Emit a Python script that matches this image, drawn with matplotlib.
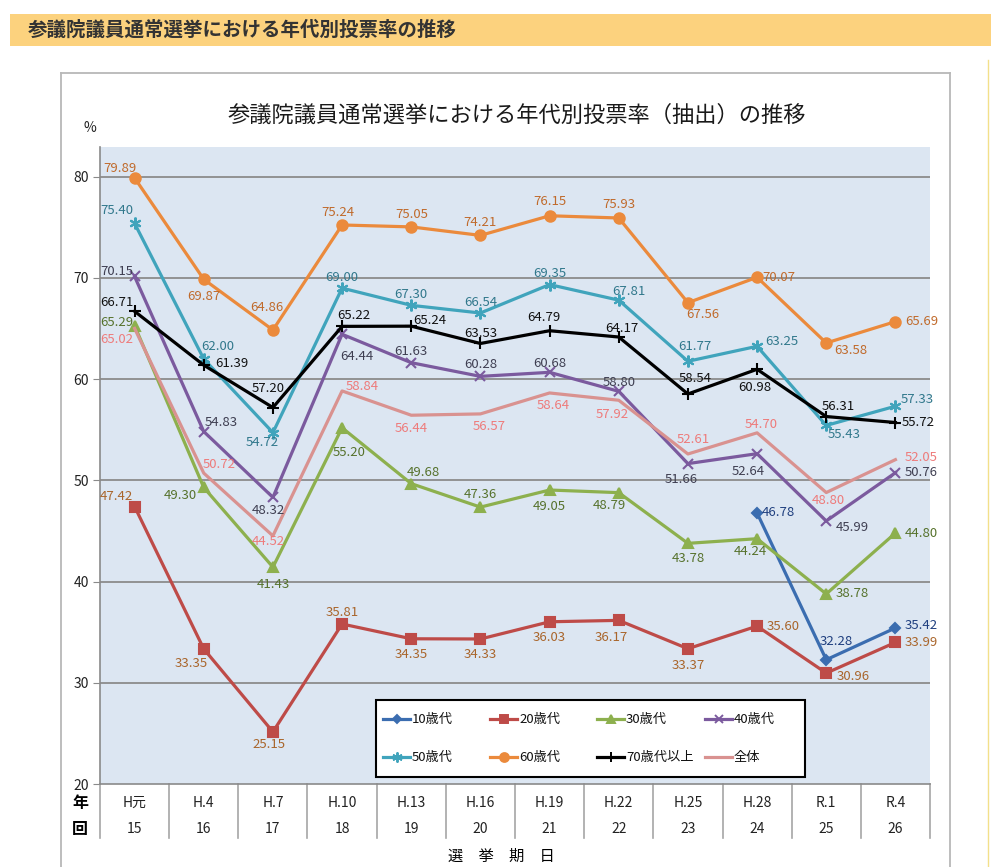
import numpy as np
import matplotlib
matplotlib.use("Agg")
import matplotlib.pyplot as plt
import matplotlib.transforms as mtransforms
from matplotlib.lines import Line2D
from matplotlib.patches import Rectangle

plt.rcParams['font.family'] = ['Noto Sans CJK JP', 'DejaVu Sans']

# --- data -------------------------------------------------------------
eras = ["H元", "H.4", "H.7", "H.10", "H.13", "H.16", "H.19", "H.22", "H.25", "H.28", "R.1", "R.4"]
rounds = ["15", "16", "17", "18", "19", "20", "21", "22", "23", "24", "25", "26"]

names = ["10歳代", "20歳代", "30歳代", "40歳代", "50歳代", "60歳代", "70歳代以上", "全体"]
age10 = [np.nan] * 9 + [46.78, 32.28, 35.42]
age20 = [47.42, 33.35, 25.15, 35.81, 34.35, 34.33, 36.03, 36.17, 33.37, 35.60, 30.96, 33.99]
age30 = [65.29, 49.30, 41.43, 55.20, 49.68, 47.36, 49.05, 48.79, 43.78, 44.24, 38.78, 44.80]
age40 = [70.15, 54.83, 48.32, 64.44, 61.63, 60.28, 60.68, 58.80, 51.66, 52.64, 45.99, 50.76]
age50 = [75.40, 62.00, 54.72, 69.00, 67.30, 66.54, 69.35, 67.81, 61.77, 63.25, 55.43, 57.33]
age60 = [79.89, 69.87, 64.86, 75.24, 75.05, 74.21, 76.15, 75.93, 67.56, 70.07, 63.58, 65.69]
age70 = [66.71, 61.39, 57.20, 65.22, 65.24, 63.53, 64.79, 64.17, 58.54, 60.98, 56.31, 55.72]
total = [65.02, 50.72, 44.52, 58.84, 56.44, 56.57, 58.64, 57.92, 52.61, 54.70, 48.80, 52.05]
series = [age10, age20, age30, age40, age50, age60, age70, total]

# --- styles -----------------------------------------------------------
asterisk = (6, 2, 0)
styles = {
    "10歳代": dict(color="#3B6DB0", marker="D", ms=5, lab="#1F3F7F"),
    "20歳代": dict(color="#BE4B48", marker="s", ms=7, lab="#A9652B"),
    "30歳代": dict(color="#8DB04E", marker="^", ms=7.5, lab="#56722C"),
    "40歳代": dict(color="#7B5A9E", marker="x", ms=7, lab="#3F3F52"),
    "50歳代": dict(color="#40A4BC", marker=asterisk, ms=8.5, lab="#31788C"),
    "60歳代": dict(color="#EB8A3C", marker="o", ms=7.5, lab="#C06A2B"),
    "70歳代以上": dict(color="#000000", marker="+", ms=8, lab="#111111"),
    "全体": dict(color="#D99290", marker=None, ms=0, lab="#EE7B7B"),
}

# label placement offsets in pixels (dx right, dy down)
label_pos = {
    "10歳代": [None] * 9 + [(21, 0), (10, -18), (26, -2)],
    "20歳代": [(-18, -10), (-13, 15), (-4, 13), (0, -12), (0, 16), (0, 16),
              (0, 16), (-7, 17), (0, 17), (26, 0), (27, 3), (26, 0)],
    "30歳代": [(-18, -3), (-23, 8), (0, 17), (7, 25), (12, -11), (0, -13),
              (0, 16), (-9, 13), (0, 15), (-7, 13), (26, 0), (26, 0)],
    "40歳代": [(-18, -5), (18, -9), (-5, 13), (15, 22), (0, -11), (0, -12),
              (0, -9), (0, -9), (-7, 16), (-9, 18), (26, 7), (26, 0)],
    "50歳代": [(-18, -13), (14, -12), (-11, 10), (0, -11), (0, -11), (0, -11),
              (0, -11), (10, -9), (7, -15), (25, -5), (18, 9), (22, -7)],
    "60歳代": [(-15, -9), (0, 17), (-6, -23), (-4, -12), (0, -12), (0, -13),
              (0, -14), (0, -13), (15, 12), (22, 0), (25, 8), (26, 0)],
    "70歳代以上": [(-18, -9), (28, -2), (-5, -19), (12, -11), (19, -6), (0, -10),
                (-6, -13), (3, -8), (7, -15), (-2, 18), (12, -10), (23, 0)],
    "全体": [(-18, 11), (15, -9), (-5, 6), (20, -4), (0, 13), (9, 13),
           (4, 13), (-7, 14), (5, -14), (4, -8), (2, 8), (26, -2)],
}

W, H = 991, 867
fx = lambda x: x / W
fy = lambda y: 1 - y / H

fig = plt.figure(figsize=(W / 100, H / 100), dpi=100)
fig.patch.set_facecolor("white")

# header bar
fig.add_artist(Rectangle((fx(10), fy(46)), fx(991) - fx(10), fy(14) - fy(46),
                         transform=fig.transFigure, facecolor="#FCD27E", edgecolor="none"))
fig.text(fx(28), fy(30), "参議院議員通常選挙における年代別投票率の推移",
         fontsize=14, fontweight="bold", color="#333333", va="center", ha="left")

# chart frame
frame = dict(color="#B8B8B8", lw=1.3, transform=fig.transFigure)
fig.add_artist(Line2D([fx(61), fx(61)], [fy(73), fy(867)], **frame))
fig.add_artist(Line2D([fx(61), fx(950)], [fy(73), fy(73)], **frame))
fig.add_artist(Line2D([fx(950), fx(950)], [fy(73), fy(867)], **frame))
fig.add_artist(Line2D([fx(988), fx(988)], [fy(60), fy(867)], color="#F3E08A", lw=1,
                      transform=fig.transFigure))

fig.text(fx(517), fy(115), "参議院議員通常選挙における年代別投票率（抽出）の推移",
         fontsize=16, ha="center", va="center", color="#1a1a1a")
fig.text(fx(90), fy(128), "%", fontsize=10, ha="center", va="center", color="#222222")

# plot area
ax = fig.add_axes([fx(100), fy(784), fx(930) - fx(100), fy(147) - fy(784)])
ax.set_facecolor("#DCE6F2")
ax.set_xlim(-0.5, len(eras) - 0.5)
ax.set_ylim(20, 20 + (784 - 147) / 10.12)
ax.set_yticks(range(20, 81, 10))
ax.tick_params(axis="y", length=5, color="#8A8A8A", labelsize=10, labelcolor="#222222", pad=3)
ax.tick_params(axis="x", length=0, labelbottom=False)
for y in range(30, 81, 10):
    ax.axhline(y, color="#8C8C8C", lw=1.3, zorder=1)
for s in ["top", "right"]:
    ax.spines[s].set_visible(False)
ax.spines["left"].set_color("#8A8A8A")
ax.spines["bottom"].set_color("#8A8A8A")
ax.spines["left"].set_linewidth(1.2)
ax.spines["bottom"].set_linewidth(1.2)

x = np.arange(len(eras))
for k, (name, vals) in enumerate(zip(names, series)):
    st = styles[name]
    ax.plot(x, vals, color=st["color"], lw=2.3, marker=st["marker"], ms=st["ms"],
            mew=1.5, mec=st["color"], mfc=st["color"], zorder=3 + k, clip_on=False)
    for i, v in enumerate(vals):
        if np.isnan(v):
            continue
        dx, dy = label_pos[name][i]
        ax.annotate(f"{v:.2f}", (i, v), xytext=(dx, -dy), textcoords="offset pixels",
                    ha="center", va="center", fontsize=9.5, color=st["lab"], zorder=20)

# table under the axis
trans = mtransforms.blended_transform_factory(ax.transData, ax.transAxes)
ah = 784 - 147
for b in np.arange(-0.5, len(eras), 1.0):
    ax.plot([b, b], [0, -(838 - 784) / ah], color="#A6A6A6", lw=1.2,
            transform=trans, clip_on=False)
for i in range(len(eras)):
    ax.text(i, -(803 - 784) / ah, eras[i], transform=trans, ha="center", va="center",
            fontsize=10, color="#222222")
    ax.text(i, -(829 - 784) / ah, rounds[i], transform=trans, ha="center", va="center",
            fontsize=10, color="#222222")
fig.text(fx(80), fy(803), "年", fontsize=11.5, fontweight="bold", ha="center", va="center")
fig.text(fx(80), fy(829), "回", fontsize=11.5, fontweight="bold", ha="center", va="center")
fig.text(fx(501), fy(856), "選　挙　期　日", fontsize=11, ha="center", va="center")

# legend
fig.add_artist(Rectangle((fx(376), fy(777)), fx(805) - fx(376), fy(700) - fy(777),
                         transform=fig.transFigure, facecolor="white", edgecolor="black",
                         lw=1.5, zorder=30))
cols = [383, 490, 597, 705]
rows = [719, 757]
for k, name in enumerate(names):
    st = styles[name]
    x0 = cols[k % 4]
    y0 = rows[k // 4]
    fig.add_artist(Line2D([fx(x0), fx(x0 + 27)], [fy(y0), fy(y0)], color=st["color"], lw=2.3,
                          transform=fig.transFigure, zorder=31))
    if st["marker"] is not None:
        fig.add_artist(Line2D([fx(x0 + 13.5)], [fy(y0)], color=st["color"], marker=st["marker"],
                              ms=st["ms"] * 0.85, mew=1.4, mfc=st["color"], mec=st["color"],
                              transform=fig.transFigure, zorder=32))
    fig.text(fx(x0 + 29), fy(y0), name, fontsize=9.5, ha="left", va="center",
             color="#111111", zorder=33)

fig.savefig("out.png", dpi=100)
